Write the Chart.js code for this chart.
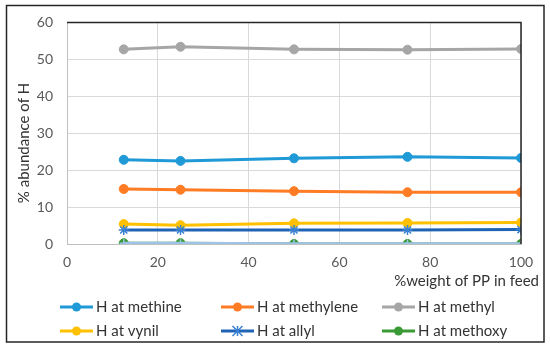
<!DOCTYPE html>
<html>
<head>
<meta charset="utf-8">
<script src="https://cdn.jsdelivr.net/npm/chart.js@4.4.1/dist/chart.umd.min.js"></script>
<style>
  html, body { margin: 0; padding: 0; background: #fff; }
  canvas { display: block; }
</style>
</head>
<body>
<canvas id="hChart" width="550" height="344"></canvas>
<script>
// données
const ppWeight = [12.5, 25, 50, 75, 100];
const hMethine = [22.8, 22.5, 23.2, 23.6, 23.3];
const hMethylene = [14.9, 14.7, 14.3, 14.0, 14.0];
const hMethyl = [52.7, 53.4, 52.7, 52.6, 52.8];
const hVynil = [5.4, 5.1, 5.6, 5.7, 5.8];
const hAllyl = [3.8, 3.8, 3.8, 3.8, 3.9];
const hMethoxy = [0.2, 0.2, 0.0, 0.0, 0.0];
const hExtra = [0.2, 0.2, 0.1, 0.1, 0.1]; // ligne bleu clair par-dessus, sans légende

const xTicks = [0, 20, 40, 60, 80, 100];
const yTicks = [0, 10, 20, 30, 40, 50, 60];

const labels = ['H at methine', 'H at methylene', 'H at methyl', 'H at vynil', 'H at allyl', 'H at methoxy'];
const colors = ['#1F9AD6', '#FF7C24', '#A6A6A6', '#FFC000', '#1F63B5', '#3A9A35'];
const series = [hMethine, hMethylene, hMethyl, hVynil, hAllyl, hMethoxy];
const FONT = 'Lato, "Open Sans", sans-serif';

function toPoints(values) {
    return ppWeight.map((x, i) => ({ x: x, y: values[i] }));
}

const datasets = series.map((vals, i) => ({
    label: labels[i],
    data: toPoints(vals),
    borderColor: colors[i],
    backgroundColor: colors[i],
    borderWidth: 3,
    pointRadius: i === 4 ? 5 : 4.5,
    pointStyle: i === 4 ? 'star' : 'circle',
    pointBorderColor: i === 4 ? '#3A82D4' : colors[i],
    pointBorderWidth: i === 4 ? 1.5 : 1,
    order: 10 - i
}));
datasets.push({
    label: '',
    data: toPoints(hExtra),
    borderColor: '#9DC3E6',
    backgroundColor: '#9DC3E6',
    borderWidth: 3,
    pointRadius: 4,
    pointStyle: 'cross',
    pointBorderWidth: 1.5,
    order: 1
});

// cadre, légende et titres dessinés à la main
const decorPlugin = {
    id: 'decor',
    afterDraw(chart) {
        const ctx = chart.ctx;
        const a = chart.chartArea;
        ctx.save();
        // bordure extérieure
        ctx.strokeStyle = '#262626';
        ctx.lineWidth = 1.5;
        ctx.strokeRect(6.5, 5.5, 537.5, 336.5);
        // bord haut et droite de la zone de tracé
        ctx.beginPath();
        ctx.moveTo(a.left, a.top);
        ctx.lineTo(a.right, a.top);
        ctx.lineTo(a.right, a.bottom);
        ctx.stroke();

        // titre de l'axe x
        ctx.fillStyle = '#333333';
        ctx.font = '15px ' + FONT;
        ctx.textAlign = 'right';
        ctx.textBaseline = 'middle';
        ctx.fillText('%weight of PP in feed', 539, 281);

        // titre de l'axe y
        ctx.save();
        ctx.translate(24, 143);
        ctx.rotate(-Math.PI / 2);
        ctx.textAlign = 'center';
        ctx.fillText('% abundance of H', 0, 0);
        ctx.restore();

        // légende 3 colonnes
        const colX = [60, 221, 382];
        const rowY = [307, 331];
        labels.forEach((lab, i) => {
            const x = colX[i % 3];
            const y = rowY[Math.floor(i / 3)];
            const cx = x + 16.5;
            ctx.strokeStyle = colors[i];
            ctx.lineWidth = 3;
            ctx.beginPath();
            ctx.moveTo(x, y);
            ctx.lineTo(x + 33, y);
            ctx.stroke();
            ctx.fillStyle = colors[i];
            ctx.strokeStyle = i === 4 ? '#3A82D4' : colors[i];
            ctx.lineWidth = 1.5;
            ctx.beginPath();
            if (i === 4) {
                const r = 5;
                ctx.moveTo(cx - r, y - r); ctx.lineTo(cx + r, y + r);
                ctx.moveTo(cx + r, y - r); ctx.lineTo(cx - r, y + r);
                ctx.moveTo(cx, y - r); ctx.lineTo(cx, y + r);
                ctx.stroke();
            } else {
                ctx.arc(cx, y, 4.5, 0, Math.PI * 2);
                ctx.fill();
            }
            ctx.fillStyle = '#333333';
            ctx.font = '15px ' + FONT;
            ctx.textAlign = 'left';
            ctx.textBaseline = 'middle';
            ctx.fillText(lab, x + 36, y);
        });
        ctx.restore();
    }
};

new Chart(document.getElementById('hChart').getContext('2d'), {
    type: 'line',
    data: { datasets: datasets },
    options: {
        responsive: false,
        animation: false,
        devicePixelRatio: 1,
        layout: { padding: { top: 20, right: 29, left: 0, bottom: 0 } },
        plugins: {
            legend: { display: false },
            tooltip: { enabled: false }
        },
        scales: {
            x: {
                type: 'linear',
                min: 0,
                max: 100,
                afterFit: s => { s.height = 100; },
                afterBuildTicks: s => { s.ticks = xTicks.map(v => ({ value: v })); },
                grid: { color: '#D9D9D9', drawTicks: false },
                border: { color: '#BFBFBF' },
                ticks: { color: '#595959', font: { family: FONT, size: 14 }, padding: 10, maxRotation: 0 }
            },
            y: {
                min: 0,
                max: 60,
                afterFit: s => { s.width = 67; },
                afterBuildTicks: s => { s.ticks = yTicks.map(v => ({ value: v })); },
                grid: { color: '#D9D9D9', drawTicks: false },
                border: { color: '#BFBFBF' },
                ticks: { color: '#595959', font: { family: FONT, size: 14 }, padding: 14 }
            }
        }
    },
    plugins: [decorPlugin]
});
</script>
</body>
</html>
